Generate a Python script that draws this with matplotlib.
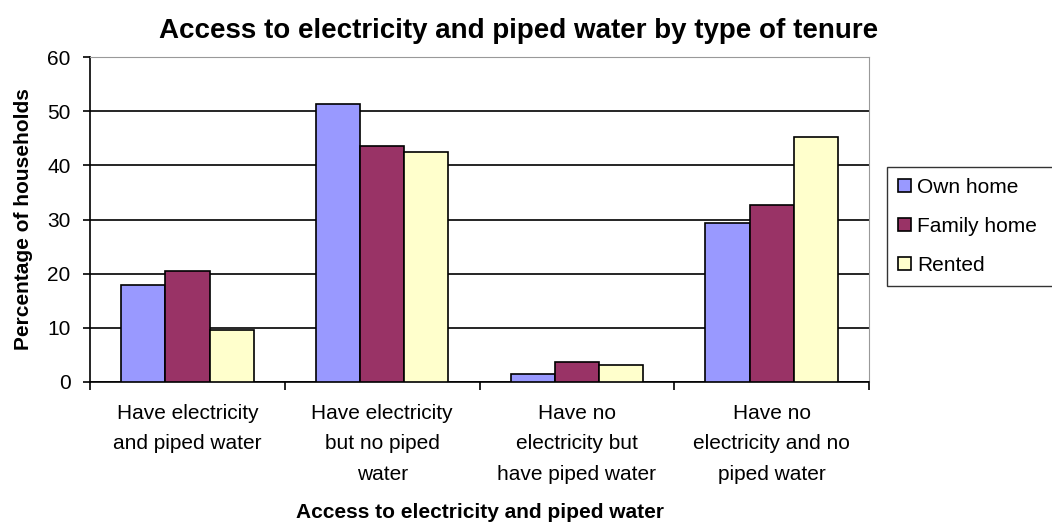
import numpy as np
import matplotlib.pyplot as plt

categories = [
    "Have electricity\nand piped water",
    "Have electricity\nbut no piped\nwater",
    "Have no\nelectricity but\nhave piped water",
    "Have no\nelectricity and no\npiped water",
]
series_names = ["Own home", "Family home", "Rented"]
own_home = [18.0, 51.4, 1.4, 29.4]
family_home = [20.5, 43.5, 3.7, 32.6]
rented = [9.6, 42.5, 3.1, 45.3]
colors = ["#9999FF", "#993366", "#FFFFCC"]

plt.rcParams['font.family'] = ['Liberation Sans', 'DejaVu Sans']

fig = plt.figure(figsize=(10.52, 5.24), dpi=100)
ax = fig.add_axes([0.0856, 0.271, 0.7405, 0.620])

x = np.arange(len(categories))
width = 0.227
for i, (vals, name) in enumerate(zip([own_home, family_home, rented], series_names)):
    ax.bar(x + (i - 1) * width, vals, width, color=colors[i], edgecolor="black",
           linewidth=1.2, label=name, zorder=3)

ax.set_xlim(-0.5, len(categories) - 0.5)
ax.set_ylim(0, 60)
ax.set_yticks(range(0, 61, 10))
ax.yaxis.grid(True, color="black", linewidth=1.2, zorder=0)
ax.set_axisbelow(True)

# category labels sit between the boundary ticks
ax.set_xticks(np.arange(-0.5, len(categories)), minor=False)
ax.set_xticklabels([])
ax.set_xticks(x, minor=True)
ax.set_xticklabels(categories, minor=True, fontsize=15, linespacing=1.75)
ax.tick_params(axis="x", which="minor", length=0, pad=16)
ax.tick_params(axis="x", which="major", length=6, width=1.2, direction="out")
ax.tick_params(axis="y", length=5, width=1.2, labelsize=15, pad=9)

for side in ["top", "right"]:
    ax.spines[side].set_color("#999999")
for side in ["left", "bottom"]:
    ax.spines[side].set_color("black")
    ax.spines[side].set_linewidth(1.2)

ax.set_ylabel("Percentage of households", fontsize=15, fontweight="bold", labelpad=10)
ax.set_xlabel("Access to electricity and piped water", fontsize=15, fontweight="bold", labelpad=14)
fig.text(0.493, 0.94, "Access to electricity and piped water by type of tenure",
         ha="center", va="center", fontsize=20, fontweight="bold")

# legend frame runs off the right edge of the figure
leg = fig.legend(loc="upper left", bbox_to_anchor=(0.843, 0.682, 0.2, 0), mode="expand",
                 frameon=True, fancybox=False, edgecolor="black", fontsize=15,
                 handlelength=0.6, handleheight=0.6, handletextpad=0.3, borderpad=0.55,
                 labelspacing=0.95, borderaxespad=0)
leg.get_frame().set_linewidth(1.0)

fig.savefig("out.png", dpi=100)
